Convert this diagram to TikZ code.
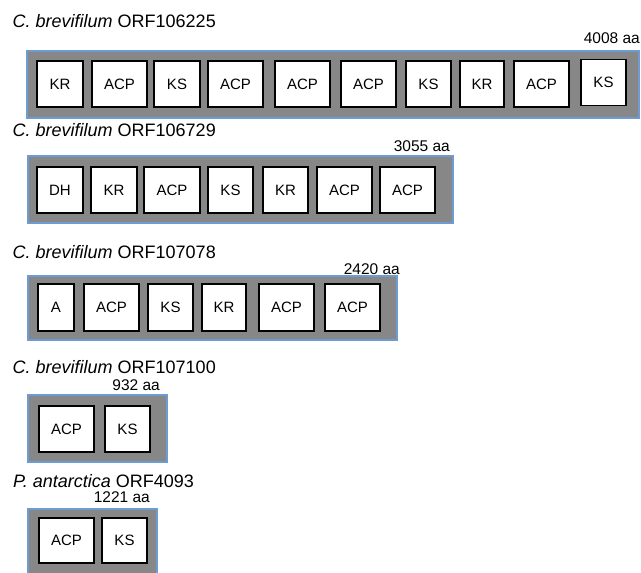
\documentclass[tikz,border=0pt]{standalone}
\usepackage{fontspec}
\setmainfont{Liberation Sans}
\definecolor{bargray}{HTML}{878787}
\definecolor{barblue}{HTML}{6E9BD2}
\begin{document}
\begin{tikzpicture}[x=1pt,y=-1pt,
  bar/.style={fill=bargray,draw=barblue,line width=1.3pt},
  dom/.style={draw=black,fill=white,line width=1.6pt,inner sep=0pt,font=\fontsize{15}{15}\selectfont},
  title/.style={anchor=base west,inner sep=0pt,font=\fontsize{18}{18}\selectfont},
  len/.style={anchor=base east,inner sep=0pt,font=\fontsize{15.5}{15.5}\selectfont}]
\useasboundingbox (0,0) rectangle (641,573);
% Row 1
\node[title] (t1) at (12.5,27.7) {\textit{C. brevifilum} ORF106225};
\node[len] (l1) at (640,43) {4008 aa};
\draw[bar] (27,51) rectangle (639,118);
\node[dom,minimum width=46pt,minimum height=46pt] (a1) at (60,84) {KR};
\node[dom,minimum width=55pt,minimum height=46pt] (a2) at (119.5,84) {ACP};
\node[dom,minimum width=46pt,minimum height=46pt] (a3) at (177,84) {KS};
\node[dom,minimum width=55pt,minimum height=46pt] (a4) at (235.5,84) {ACP};
\node[dom,minimum width=55pt,minimum height=46pt] (a5) at (302.5,84) {ACP};
\node[dom,minimum width=55pt,minimum height=46pt] (a6) at (368.5,84) {ACP};
\node[dom,minimum width=45pt,minimum height=46pt] (a7) at (428.5,84) {KS};
\node[dom,minimum width=44pt,minimum height=46pt] (a8) at (482,84) {KR};
\node[dom,minimum width=55pt,minimum height=46pt] (a9) at (541.5,84) {ACP};
\node[dom,minimum width=45pt,minimum height=46pt] (a10) at (603.5,82.5) {KS};
% Row 2
\node[title] (t2) at (12.5,136) {\textit{C. brevifilum} ORF106729};
\node[len] (l2) at (450,151) {3055 aa};
\draw[bar] (28,156) rectangle (453,223);
\node[dom,minimum width=46pt,minimum height=46pt] (b1) at (60,190) {DH};
\node[dom,minimum width=46pt,minimum height=46pt] (b2) at (114,190) {KR};
\node[dom,minimum width=56pt,minimum height=46pt] (b3) at (172,190) {ACP};
\node[dom,minimum width=45pt,minimum height=46pt] (b4) at (230.5,190) {KS};
\node[dom,minimum width=45pt,minimum height=46pt] (b5) at (285.5,190) {KR};
\node[dom,minimum width=55pt,minimum height=46pt] (b6) at (344.5,190) {ACP};
\node[dom,minimum width=55pt,minimum height=46pt] (b7) at (407.5,190) {ACP};
% Row 3
\node[title] (t3) at (12.5,258) {\textit{C. brevifilum} ORF107078};
\node[len] (l3) at (400,274) {2420 aa};
\draw[bar] (28,276) rectangle (397,340);
\node[dom,minimum width=36pt,minimum height=47pt] (c1) at (56,307.5) {A};
\node[dom,minimum width=55pt,minimum height=47pt] (c2) at (111.5,307.5) {ACP};
\node[dom,minimum width=45pt,minimum height=47pt] (c3) at (170.5,307.5) {KS};
\node[dom,minimum width=44pt,minimum height=47pt] (c4) at (224,307.5) {KR};
\node[dom,minimum width=55pt,minimum height=47pt] (c5) at (286.5,307.5) {ACP};
\node[dom,minimum width=55pt,minimum height=47pt] (c6) at (352.5,307.5) {ACP};
% Row 4
\node[title] (t4) at (12.5,373) {\textit{C. brevifilum} ORF107100};
\node[len] (l4) at (160,390) {932 aa};
\draw[bar] (28,395) rectangle (167,462);
\node[dom,minimum width=55pt,minimum height=46pt] (d1) at (66.5,429) {ACP};
\node[dom,minimum width=45pt,minimum height=46pt] (d2) at (127.5,429) {KS};
% Row 5
\node[title] (t5) at (13,487) {\textit{P. antarctica} ORF4093};
\node[len] (l5) at (150,502.5) {1221 aa};
\draw[bar] (28,509) rectangle (157,578);
\node[dom,minimum width=55pt,minimum height=45pt] (e1) at (66.5,540.5) {ACP};
\node[dom,minimum width=45pt,minimum height=45pt] (e2) at (124.5,540.5) {KS};
\end{tikzpicture}
\end{document}
